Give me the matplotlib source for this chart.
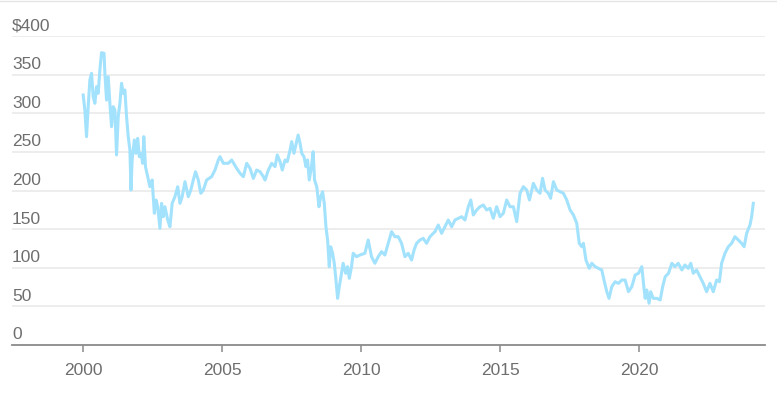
import matplotlib
matplotlib.use("Agg")
import matplotlib.pyplot as plt
import matplotlib.transforms as mtransforms
from matplotlib.lines import Line2D

# price readings (year, value)
years = [
    2000.01, 2000.07, 2000.13, 2000.19, 2000.25, 2000.31, 2000.37, 2000.43, 2000.49, 2000.55,
    2000.61, 2000.67, 2000.76, 2000.79, 2000.85, 2000.91, 2000.97, 2001.03, 2001.09, 2001.15,
    2001.21, 2001.27, 2001.33, 2001.39, 2001.45, 2001.51, 2001.57, 2001.63, 2001.69, 2001.73,
    2001.77, 2001.85, 2001.91, 2001.97, 2002.03, 2002.09, 2002.15, 2002.19, 2002.25, 2002.33,
    2002.41, 2002.49, 2002.57, 2002.63, 2002.69, 2002.77, 2002.83, 2002.89, 2002.95, 2003.05,
    2003.13, 2003.21, 2003.31, 2003.41, 2003.49, 2003.57, 2003.67, 2003.79, 2003.88, 2003.97,
    2004.05, 2004.15, 2004.24, 2004.33, 2004.45, 2004.63, 2004.75, 2004.87, 2004.93, 2005.05,
    2005.23, 2005.35, 2005.53, 2005.65, 2005.77, 2005.89, 2006.01, 2006.13, 2006.25, 2006.37,
    2006.49, 2006.55, 2006.67, 2006.79, 2006.91, 2006.99, 2007.09, 2007.17, 2007.27, 2007.35,
    2007.45, 2007.51, 2007.59, 2007.66, 2007.74, 2007.81, 2007.87, 2007.95, 2008.02, 2008.08,
    2008.14, 2008.22, 2008.28, 2008.33, 2008.41, 2008.49, 2008.55, 2008.62, 2008.68, 2008.74,
    2008.80, 2008.86, 2008.91, 2008.98, 2009.04, 2009.10, 2009.16, 2009.22, 2009.28, 2009.36,
    2009.45, 2009.52, 2009.58, 2009.66, 2009.72, 2009.84, 2009.96, 2010.14, 2010.26, 2010.38,
    2010.50, 2010.62, 2010.74, 2010.86, 2010.98, 2011.10, 2011.22, 2011.34, 2011.46, 2011.58,
    2011.70, 2011.82, 2011.91, 2012.00, 2012.12, 2012.24, 2012.36, 2012.48, 2012.66, 2012.78,
    2012.90, 2013.02, 2013.14, 2013.26, 2013.38, 2013.50, 2013.62, 2013.74, 2013.86, 2013.95,
    2014.04, 2014.16, 2014.28, 2014.40, 2014.52, 2014.64, 2014.76, 2014.88, 2015.00, 2015.12,
    2015.24, 2015.36, 2015.48, 2015.60, 2015.72, 2015.84, 2015.96, 2016.06, 2016.20, 2016.32,
    2016.44, 2016.53, 2016.62, 2016.74, 2016.82, 2016.92, 2017.04, 2017.16, 2017.28, 2017.40,
    2017.52, 2017.64, 2017.76, 2017.85, 2017.94, 2018.00, 2018.09, 2018.21, 2018.30, 2018.42,
    2018.54, 2018.66, 2018.74, 2018.84, 2018.92, 2019.02, 2019.14, 2019.26, 2019.38, 2019.50,
    2019.62, 2019.74, 2019.86, 2019.98, 2020.10, 2020.16, 2020.22, 2020.28, 2020.36, 2020.42,
    2020.51, 2020.64, 2020.76, 2020.85, 2020.94, 2021.06, 2021.18, 2021.29, 2021.41, 2021.54,
    2021.65, 2021.77, 2021.86, 2021.95, 2022.07, 2022.19, 2022.31, 2022.43, 2022.55, 2022.67,
    2022.79, 2022.89, 2022.97, 2023.09, 2023.21, 2023.33, 2023.45, 2023.57, 2023.69, 2023.78,
    2023.87, 2023.99, 2024.05, 2024.11,
]
prices = [
    323.6, 304.2, 269.7, 308.5, 343.0, 351.7, 321.5, 312.9, 334.4, 325.8,
    356.0, 378.4, 377.6, 351.7, 317.0, 347.3, 312.9, 282.6, 308.5, 304.2,
    246.0, 295.5, 312.9, 338.8, 325.8, 330.1, 295.5, 269.7, 252.4, 200.6,
    239.5, 265.4, 248.1, 267.5, 243.8, 248.1, 235.2, 269.7, 230.9, 217.9,
    204.9, 213.6, 170.5, 187.7, 179.0, 151.0, 183.4, 166.1, 179.0, 161.8,
    153.1, 183.4, 192.0, 204.9, 183.4, 192.0, 211.4, 192.0, 200.6, 213.6,
    224.3, 213.6, 196.4, 200.6, 213.6, 217.9, 226.5, 239.5, 243.8, 235.2,
    235.2, 239.5, 228.7, 222.3, 217.9, 235.2, 228.7, 215.6, 226.5, 224.3,
    217.9, 213.6, 226.5, 235.2, 230.9, 246.0, 237.3, 226.5, 239.5, 237.3,
    252.4, 263.2, 248.1, 258.9, 271.8, 261.1, 248.1, 243.8, 230.9, 239.5,
    213.6, 230.9, 250.2, 213.6, 204.9, 179.0, 192.0, 198.4, 183.4, 153.1,
    135.9, 101.4, 127.2, 118.7, 105.8, 84.1, 60.4, 75.5, 88.4, 105.8,
    92.8, 101.4, 86.3, 101.4, 118.7, 114.3, 116.5, 118.7, 135.9, 114.3,
    105.8, 114.3, 120.8, 116.5, 131.6, 146.7, 140.2, 140.2, 131.6, 114.3,
    118.7, 110.0, 123.0, 131.6, 135.9, 138.1, 131.6, 140.2, 146.7, 155.3,
    144.6, 153.1, 161.8, 153.1, 161.8, 164.0, 166.1, 161.8, 179.0, 187.7,
    168.3, 174.8, 179.0, 181.2, 174.8, 176.9, 164.0, 179.0, 166.1, 170.5,
    187.7, 179.0, 179.0, 159.7, 196.4, 204.9, 200.6, 187.7, 209.3, 200.6,
    196.4, 215.8, 200.6, 196.4, 189.9, 211.4, 200.6, 198.5, 196.4, 187.7,
    174.8, 168.3, 157.5, 131.6, 127.2, 131.6, 110.0, 99.2, 105.8, 101.4,
    99.2, 97.1, 84.1, 69.0, 60.4, 75.5, 81.9, 79.8, 84.1, 84.1,
    69.0, 75.5, 90.6, 92.8, 101.4, 79.8, 60.4, 71.2, 54.0, 69.0,
    60.4, 60.4, 58.3, 75.5, 88.4, 92.8, 105.8, 101.4, 105.8, 97.1,
    103.6, 99.2, 105.8, 92.8, 97.1, 88.4, 79.8, 69.0, 79.8, 69.0,
    84.1, 81.9, 105.8, 118.7, 127.2, 131.6, 140.2, 135.9, 131.6, 127.2,
    144.6, 155.3, 166.1, 183.4,
]
y_ticks = [0, 50, 100, 150, 200, 250, 300, 350, 400]
y_labels = ["0", "50", "100", "150", "200", "250", "300", "350", "$400"]
x_ticks = [2000, 2005, 2010, 2015, 2020]

plt.rcParams["font.family"] = ["Liberation Sans", "DejaVu Sans"]
text_gray = "#6e6e6e"

fig = plt.figure(figsize=(7.77, 4.0), dpi=100)
ax = fig.add_axes([12 / 777, 55 / 400, 753 / 777, 309 / 400])

ax.plot(years, prices, color="#a3e2fc", linewidth=2.2, solid_joinstyle="round", clip_on=False, zorder=3)

ax.set_xlim(1997.45, 2024.53)
ax.set_ylim(0, 400)

# horizontal gridlines
for v in y_ticks[1:]:
    ax.axhline(v, color="#e8e8e8", linewidth=1.1, zorder=1)

# y labels sit just above their gridlines, left aligned
offset = mtransforms.ScaledTranslation(0, 4 / 72, fig.dpi_scale_trans)
trans = mtransforms.blended_transform_factory(ax.transAxes, ax.transData) + offset
for v, lab in zip(y_ticks, y_labels):
    ax.text(0.0, v, lab, transform=trans, ha="left", va="baseline",
            fontsize=12.5, color=text_gray)

ax.set_yticks([])
ax.set_xticks(x_ticks)
ax.set_xticklabels([str(t) for t in x_ticks])
ax.tick_params(axis="x", direction="out", length=5, width=1.1, color="#8a8a8a",
               labelsize=12.5, labelcolor=text_gray, pad=8)

for side in ["top", "right", "left"]:
    ax.spines[side].set_visible(False)
ax.spines["bottom"].set_color("#8a8a8a")
ax.spines["bottom"].set_linewidth(1.3)

# faint rule along the top edge
fig.add_artist(Line2D([0, 1], [0.998, 0.998], transform=fig.transFigure,
                      color="#e4e4e4", linewidth=1))

fig.savefig("out.png", dpi=100)
